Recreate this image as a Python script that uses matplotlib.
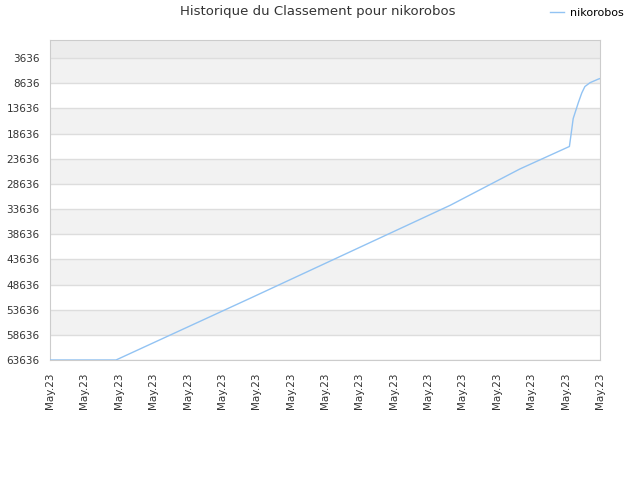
import matplotlib.pyplot as plt

# Data (x in tick units, rank values)
x_pos = [0, 1.92, 5.82, 11.64, 13.67, 15.11, 15.18, 15.22, 15.37, 15.47, 15.56, 15.71, 15.95, 16.0]
rank = [63636, 63636, 51376, 32896, 25666, 21200, 17700, 15650, 12480, 10560, 9290, 8520, 7810, 7700]
y_ticks = [3636, 8636, 13636, 18636, 23636, 28636, 33636, 38636, 43636, 48636, 53636, 58636, 63636]
x_labels = ['May.23'] * 17

fig = plt.figure(figsize=(6.4, 4.8), dpi=100)
ax = fig.add_axes([50 / 640, 120 / 480, 550 / 640, 320 / 480])

# alternating bands
ax.axhspan(36, 3636, color='#ececec', zorder=0, lw=0)
for i in range(len(y_ticks) - 1):
    if i % 2 == 0:
        ax.axhspan(y_ticks[i], y_ticks[i + 1], color='#f2f2f2', zorder=0, lw=0)

ax.plot(x_pos, rank, color='#92c3f3', lw=1, label='nikorobos', zorder=3)

ax.set_xlim(0, 16)
ax.set_ylim(63636, 36)
ax.set_yticks(y_ticks)
ax.set_yticklabels([str(v) for v in y_ticks])
ax.set_xticks(range(17))
ax.set_xticklabels(x_labels, rotation=90)
ax.tick_params(axis='both', labelsize=7.5, labelcolor='#333333', length=0)
ax.tick_params(axis='y', pad=7.5)
ax.tick_params(axis='x', pad=9)
ax.grid(axis='y', color='#dddddd', lw=1, zorder=1)
ax.set_axisbelow(True)
for s in ax.spines.values():
    s.set_color('#cccccc')

fig.text(318 / 640, 1 - 12 / 480, 'Historique du Classement pour nikorobos',
         ha='center', va='center', fontsize=9.5, color='#333333')
fig.legend(loc='center right', bbox_to_anchor=(634 / 640, 1 - 13 / 480), frameon=False,
           fontsize=8, handlelength=1.2, handletextpad=0.6)

fig.savefig('out.png', dpi=100)
